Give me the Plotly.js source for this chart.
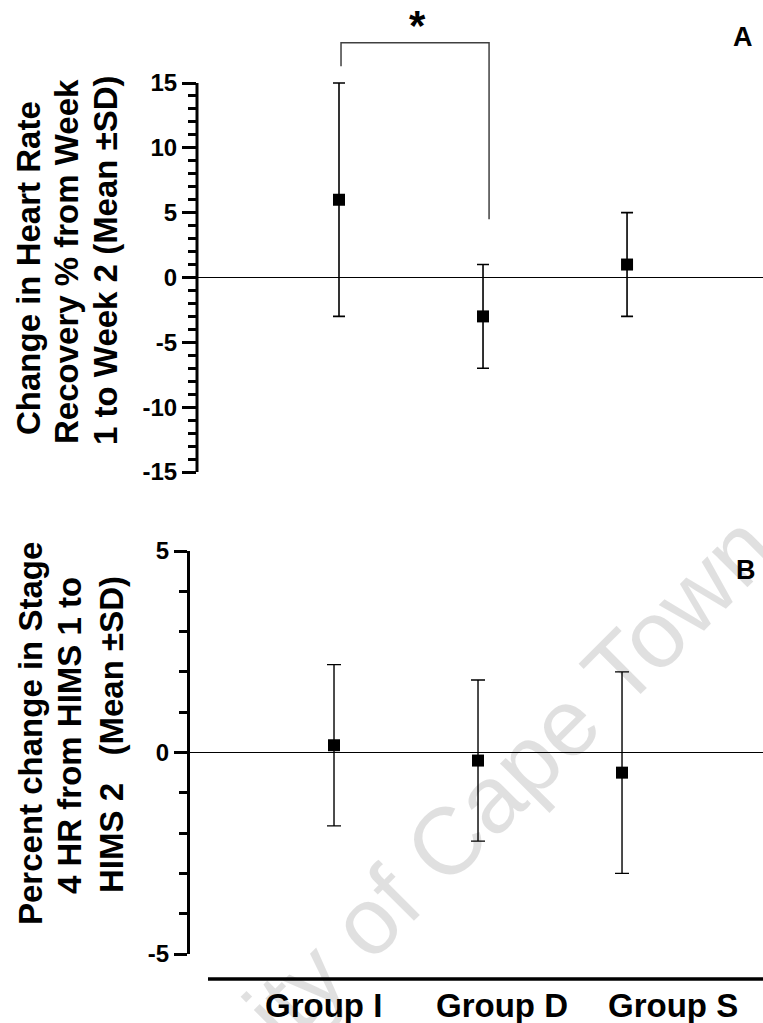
<!DOCTYPE html>
<html>
<head>
<meta charset="utf-8">
<script src="https://cdn.plot.ly/plotly-3.0.1.min.js"></script>
<style>html,body{margin:0;padding:0;background:#fff;}</style>
</head>
<body>
<div id="chart" style="width:763px;height:1023px;"></div>
<script>
// ---- data ----
var groups = ['Group I', 'Group D', 'Group S'];
var groupX = [1, 2, 3];
// Panel A: change in heart rate recovery % (mean, SD)
var hrrMean = [6, -3, 1];
var hrrSD = [9, 4, 4];
// Panel B: percent change in stage 4 HR (mean, SD)
var stageMean = [0.18, -0.2, -0.5];
var stageSD = [2.0, 2.0, 2.5];
// significance bracket between Group I and Group D (panel A)
var bracketX = [1.014, 1.014, 2.042, 2.042];
var bracketY = [16.3, 18.1, 18.1, 4.5];
var sigLabel = '*';
// tick labels
var ticksA = [-15, -10, -5, 0, 5, 10, 15];
var ticksB = [-5, 0, 5];
var labelX = [0.924, 2.167, 3.354];
// axis title lines
var titleA = ['Change in Heart Rate', 'Recovery % from Week', '1 to Week 2 (Mean \u00b1SD)'];
var titleB = ['Percent change in Stage', '4 HR from HIMS 1 to', 'HIMS 2 \u00a0 (Mean \u00b1SD)'];

function range(a, b) { var r = []; for (var v = a; v <= b; v++) r.push(v); return r; }

var FONT = 'Arial, "Liberation Sans", sans-serif';

var traces = [
  {
    x: groupX, y: hrrMean, xaxis: 'x', yaxis: 'y', type: 'scatter', mode: 'markers',
    marker: {symbol: 'square', size: 12, color: '#000'},
    error_y: {type: 'data', array: hrrSD, visible: true, color: '#000', thickness: 1.6, width: 6},
    showlegend: false, hoverinfo: 'skip'
  },
  {
    x: bracketX, y: bracketY, xaxis: 'x', yaxis: 'y', type: 'scatter', mode: 'lines',
    line: {color: '#404040', width: 1.5}, showlegend: false, hoverinfo: 'skip'
  },
  {
    x: groupX, y: stageMean, xaxis: 'x2', yaxis: 'y2', type: 'scatter', mode: 'markers',
    marker: {symbol: 'square', size: 12, color: '#000'},
    error_y: {type: 'data', array: stageSD, visible: true, color: '#000', thickness: 1.4, width: 7},
    showlegend: false, hoverinfo: 'skip'
  }
];

var tickFont = {family: FONT, size: 24, color: '#000', weight: 'bold'};

var layout = {
  width: 763, height: 1023, autosize: false,
  margin: {l: 0, r: 0, t: 0, b: 0, pad: 0},
  paper_bgcolor: '#fff', plot_bgcolor: 'rgba(0,0,0,0)',
  showlegend: false,
  xaxis: {
    domain: [197 / 763, 1], range: [0.014, 3.944], anchor: 'y',
    showline: false, showgrid: false, zeroline: false, showticklabels: false, ticks: ''
  },
  yaxis: {
    domain: [1 - 472 / 1023, 1 - 5.2 / 1023], range: [-15, 21], anchor: 'x',
    showline: false, showgrid: false,
    zeroline: true, zerolinecolor: '#000', zerolinewidth: 1,
    tickmode: 'array', tickvals: ticksA, ticktext: ticksA.map(String),
    ticks: 'outside', ticklen: 14, tickwidth: 3, tickcolor: '#000',
    tickfont: tickFont,
    minor: {tickmode: 'array', tickvals: range(-15, 15), ticks: 'outside', ticklen: 8, tickwidth: 3, tickcolor: '#000', showgrid: false}
  },
  xaxis2: {
    domain: [190 / 763, 1], range: [0, 3.979], anchor: 'y2',
    showline: false, showgrid: false, zeroline: false, showticklabels: false, ticks: ''
  },
  yaxis2: {
    domain: [1 - 954 / 1023, 1 - 551 / 1023], range: [-5, 5], anchor: 'x2',
    showline: true, linecolor: '#000', linewidth: 3, showgrid: false,
    zeroline: true, zerolinecolor: '#000', zerolinewidth: 1,
    tickmode: 'array', tickvals: ticksB, ticktext: ticksB.map(String),
    ticks: 'outside', ticklen: 13, tickwidth: 3, tickcolor: '#000',
    tickfont: tickFont,
    minor: {tickmode: 'array', tickvals: range(-5, 5), ticks: 'outside', ticklen: 8, tickwidth: 3, tickcolor: '#000', showgrid: false}
  },
  shapes: [
    // panel A vertical axis line (only spans -15..15)
    {type: 'line', xref: 'x domain', yref: 'y', x0: 0, x1: 0, y0: -15, y1: 15,
     line: {color: '#000', width: 3}},
    // panel B horizontal axis line
    {type: 'line', xref: 'x2 domain', yref: 'paper', x0: 18 / 573, x1: 1, y0: 1 - 979 / 1023, y1: 1 - 979 / 1023,
     line: {color: '#000', width: 3.5}}
  ],
  annotations: []
};

// watermark
layout.annotations.push({
  text: 'University of Cape Town', xref: 'paper', yref: 'paper', x: 395 / 763, y: 1 - 893 / 1023,
  xanchor: 'center', yanchor: 'middle', textangle: -45, showarrow: false,
  font: {family: FONT, size: 95, color: 'rgba(0,0,0,0.12)'}
});

// y-axis titles (one annotation per line)
var titleAX = [28, 66, 105], titleAY = [268, 262, 260];
var titleBX = [30, 69, 111], titleBY = [734, 736, 735];
function pushTitle(lines, xs, ys) {
  for (var k = 0; k < lines.length; k++) {
    layout.annotations.push({
      text: lines[k], xref: 'paper', yref: 'paper', x: xs[k] / 763, y: 1 - ys[k] / 1023,
      xanchor: 'center', yanchor: 'middle', textangle: -90, showarrow: false,
      font: {family: FONT, size: 33, color: '#000', weight: 'bold'}
    });
  }
}
pushTitle(titleA, titleAX, titleAY);
pushTitle(titleB, titleBX, titleBY);

// significance star
layout.annotations.push({
  text: sigLabel, xref: 'x', yref: 'y', x: (bracketX[1] + bracketX[2]) / 2 + 0.02, y: 19.4,
  xanchor: 'center', yanchor: 'middle', showarrow: false,
  font: {family: FONT, size: 42, color: '#000', weight: 'bold'}
});

// panel letters
layout.annotations.push({
  text: 'A', xref: 'paper', yref: 'paper', x: 743 / 763, y: 1 - 37 / 1023,
  xanchor: 'center', yanchor: 'middle', showarrow: false,
  font: {family: FONT, size: 27, color: '#000', weight: 'bold'}
});
layout.annotations.push({
  text: 'B', xref: 'paper', yref: 'paper', x: 746 / 763, y: 1 - 570 / 1023,
  xanchor: 'center', yanchor: 'middle', showarrow: false,
  font: {family: FONT, size: 27, color: '#000', weight: 'bold'}
});

// group labels under panel B
for (var i = 0; i < groups.length; i++) {
  layout.annotations.push({
    text: groups[i], xref: 'x2', yref: 'paper', x: labelX[i], y: 1 - 1005 / 1023,
    xanchor: 'center', yanchor: 'middle', showarrow: false,
    font: {family: FONT, size: 33, color: '#000', weight: 'bold'}
  });
}

Plotly.newPlot('chart', traces, layout, {staticPlot: true, displayModeBar: false});
</script>
</body>
</html>
